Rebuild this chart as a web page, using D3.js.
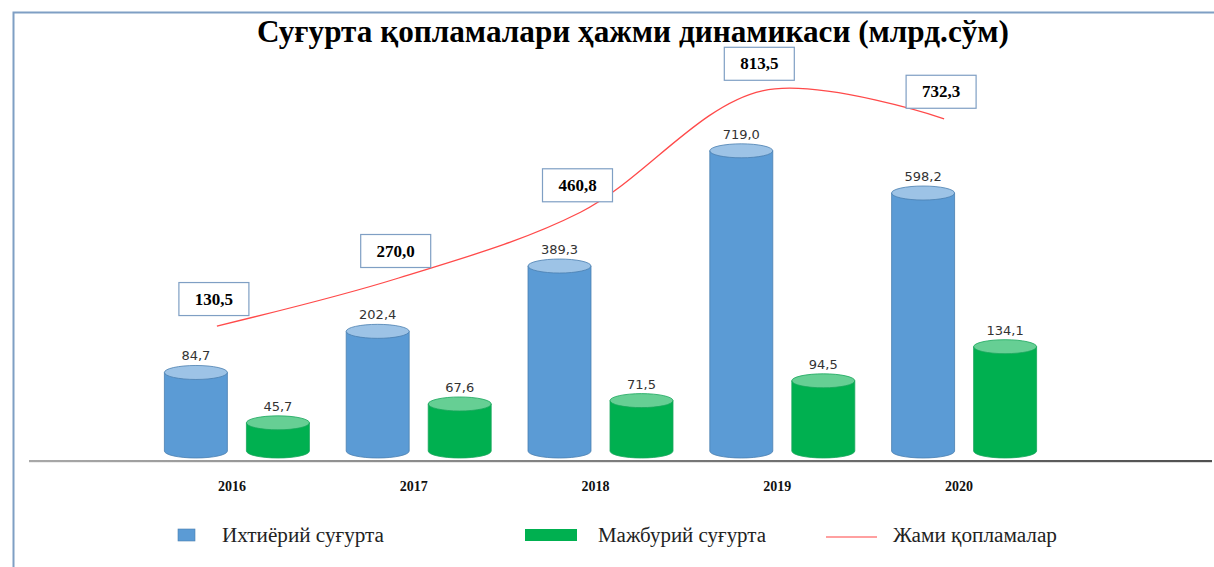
<!DOCTYPE html>
<html>
<head>
<meta charset="utf-8">
<script src="https://cdn.jsdelivr.net/npm/d3@7"></script>
<style>
  html, body { margin: 0; padding: 0; background: #fff; }
  svg { display: block; }
</style>
</head>
<body>
<svg id="chart" width="1214" height="567"></svg>
<script>
// ---- data ----
const years = ["2016", "2017", "2018", "2019", "2020"];
const voluntary = [84.7, 202.4, 389.3, 719.0, 598.2];   // Ихтиёрий суғурта
const mandatory = [45.7, 67.6, 71.5, 94.5, 134.1];      // Мажбурий суғурта
const totals = [130.5, 270.0, 460.8, 813.5, 732.3];     // Жами қопламалар
const seriesNames = ["Ихтиёрий суғурта", "Мажбурий суғурта", "Жами қопламалар"];
const title = "Суғурта қопламалари ҳажми динамикаси (млрд.сўм)";

const fmt = v => d3.format(".1f")(v).replace(".", ",");

const svg = d3.select("#chart");
const W = 1214, H = 567;
svg.append("rect").attr("width", W).attr("height", H).attr("fill", "#fff");

// frame
svg.append("path")
  .attr("d", `M13.5,${H} L13.5,12.5 L${W},12.5`)
  .attr("fill", "none").attr("stroke", "#7f9fc4").attr("stroke-width", 2);

// title
svg.append("text")
  .attr("x", 633).attr("y", 42)
  .attr("text-anchor", "middle")
  .attr("font-family", "'Liberation Serif', 'Times New Roman', serif")
  .attr("font-weight", "bold").attr("font-size", 32)
  .attr("textLength", 752).attr("lengthAdjust", "spacingAndGlyphs")
  .attr("fill", "#000")
  .text(title);

// scales
const baseY = 451;
const x0 = d3.scaleBand().domain(years).range([146, 1055]).padding(0);
const bw = x0.bandwidth();
const x1 = d3.scaleBand().domain(["vol", "mand"])
  .range([bw / 2 - 72.5, bw / 2 + 72.5]).paddingInner(0.232).paddingOuter(0);
const yVol = d3.scaleLinear().domain([-140, 800]).range([baseY, 122.5]);
const yMand = d3.scaleLinear().domain([13, 150]).range([baseY, 333]);
const yTot = d3.scaleLinear().domain([0, 900]).range([371, 61]);

// axis baseline
const grad = svg.append("defs").append("linearGradient").attr("id", "axg")
  .attr("x1", "0%").attr("x2", "100%");
grad.append("stop").attr("offset", "0%").attr("stop-color", "#a8a8a8");
grad.append("stop").attr("offset", "100%").attr("stop-color", "#505050");
svg.append("rect").attr("x", 29).attr("y", 460).attr("width", 1183).attr("height", 2.2)
  .attr("fill", "url(#axg)");

// x axis labels
const xAxis = d3.axisBottom(x0).tickSize(0).tickPadding(0);
const gx = svg.append("g").attr("transform", "translate(-5,481)").call(xAxis);
gx.select(".domain").remove();
gx.selectAll("text")
  .attr("font-family", "'Liberation Serif', 'Times New Roman', serif")
  .attr("font-weight", "bold").attr("font-size", 14).attr("fill", "#111");

// cylinders
const ry = 7;
function cylinder(g, cx, w, top, bottom, body, cap, stroke) {
  const rx = w / 2, l = cx - rx, r = cx + rx;
  g.append("path")
    .attr("d", `M${l},${top} L${l},${bottom} A${rx},${ry} 0 0 0 ${r},${bottom} L${r},${top} Z`)
    .attr("fill", body).attr("stroke", stroke).attr("stroke-width", 0.8);
  g.append("ellipse").attr("cx", cx).attr("cy", top).attr("rx", rx).attr("ry", ry)
    .attr("fill", cap).attr("stroke", stroke).attr("stroke-width", 0.8);
}
const bars = svg.append("g");
const series = [
  { key: "vol", vals: voluntary, y: yVol, body: "#5b9bd5", cap: "#9dc3e6", stroke: "#4a7fb0" },
  { key: "mand", vals: mandatory, y: yMand, body: "#00b050", cap: "#66cf94", stroke: "#16a65a" }
];
series.forEach(s => {
  years.forEach((yr, i) => {
    const cx = x0(yr) + x1(s.key) + x1.bandwidth() / 2;
    const top = s.y(s.vals[i]);
    cylinder(bars, cx, x1.bandwidth(), top, baseY, s.body, s.cap, s.stroke);
    bars.append("text")
      .attr("x", cx).attr("y", top - ry - 5)
      .attr("text-anchor", "middle")
      .attr("font-family", "'DejaVu Sans', Verdana, sans-serif")
      .attr("font-size", 13).attr("fill", "#333")
      .text(fmt(s.vals[i]));
  });
});

// total line
const lx = (yr) => x0(yr) + bw / 2 - 20;
const line = d3.line()
  .x((d, i) => lx(years[i]))
  .y(d => yTot(d))
  .curve(d3.curveCatmullRom.alpha(0.5));
svg.append("path").datum(totals)
  .attr("d", line)
  .attr("fill", "none").attr("stroke", "#ff4a4a").attr("stroke-width", 1.3);

// total label boxes
const lab = svg.append("g");
totals.forEach((v, i) => {
  const cx = lx(years[i]) - 3, cy = yTot(v) - 27;
  lab.append("rect")
    .attr("x", cx - 35).attr("y", cy - 16.5).attr("width", 70).attr("height", 33)
    .attr("fill", "#fff").attr("stroke", "#7f9fc4").attr("stroke-width", 1.2);
  lab.append("text")
    .attr("x", cx).attr("y", cy + 5.5)
    .attr("text-anchor", "middle")
    .attr("font-family", "'Liberation Serif', 'Times New Roman', serif")
    .attr("font-weight", "bold").attr("font-size", 17).attr("fill", "#000")
    .text(fmt(v));
});

// legend
const leg = svg.append("g");
const legFont = "'Liberation Serif', 'Times New Roman', serif";
leg.append("rect").attr("x", 178).attr("y", 529).attr("width", 17).attr("height", 12)
  .attr("fill", "#5b9bd5").attr("stroke", "#4a7fb0").attr("stroke-width", 0.6);
leg.append("rect").attr("x", 525).attr("y", 529).attr("width", 52).attr("height", 12)
  .attr("fill", "#00b050");
leg.append("line").attr("x1", 826).attr("x2", 877).attr("y1", 537).attr("y2", 537)
  .attr("stroke", "#ff8080").attr("stroke-width", 1.5);
[[222, seriesNames[0], 162], [598, seriesNames[1], 168], [893, seriesNames[2], 164]].forEach(([x, t, len]) => {
  leg.append("text").attr("x", x).attr("y", 542)
    .attr("font-family", legFont).attr("font-size", 20).attr("fill", "#222")
    .attr("textLength", len).attr("lengthAdjust", "spacingAndGlyphs")
    .text(t);
});
</script>
</body>
</html>
